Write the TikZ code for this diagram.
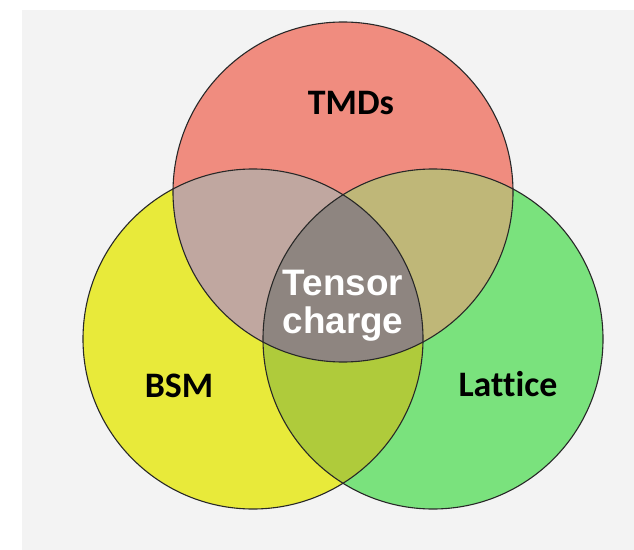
\documentclass[tikz,border=0pt]{standalone}
\usepackage{fontspec}
\newfontfamily\carl[Ligatures=NoCommon]{Carlito}
\newfontfamily\arialf{Liberation Sans}
\definecolor{bgc}{RGB}{243,243,243}
\definecolor{redc}{RGB}{240,140,127}
\definecolor{yelc}{RGB}{232,234,58}
\definecolor{grnc}{RGB}{122,226,125}
\definecolor{rync}{RGB}{192,167,160}
\definecolor{rgnc}{RGB}{191,183,120}
\definecolor{ygnc}{RGB}{175,203,59}
\definecolor{allc}{RGB}{142,133,128}
\definecolor{edgec}{RGB}{40,40,40}
\begin{document}
\begin{tikzpicture}[x=1bp,y=-1bp,
  setlabel/.style={font=\carl\bfseries\fontsize{36}{42}\selectfont, text=black, inner sep=0pt, anchor=base},
  centerlabel/.style={font=\arialf\bfseries\fontsize{37}{38}\selectfont, text=white, inner sep=0pt, anchor=base},
  ring/.style={draw=edgec, line width=1.1bp}]
\useasboundingbox (0,0) rectangle (634,550);
\fill[bgc] (22,10) rectangle (634,550);
\def\rad{170}
\coordinate (R) at (343,192);
\coordinate (Y) at (253,339);
\coordinate (G) at (433,339);
% base fills
\fill[redc] (R) circle (\rad);
\fill[yelc] (Y) circle (\rad);
\fill[grnc] (G) circle (\rad);
% pairwise overlaps
\begin{scope}
  \clip (R) circle (\rad);
  \fill[rync] (Y) circle (\rad);
  \fill[rgnc] (G) circle (\rad);
\end{scope}
\begin{scope}
  \clip (Y) circle (\rad);
  \fill[ygnc] (G) circle (\rad);
\end{scope}
\begin{scope}
  \clip (R) circle (\rad);
  \clip (Y) circle (\rad);
  \fill[allc] (G) circle (\rad);
\end{scope}
% outlines
\draw[ring] (R) circle (\rad);
\draw[ring] (Y) circle (\rad);
\draw[ring] (G) circle (\rad);
% labels
\node[setlabel] (tmds) at (351,115) {TMDs};
\node[setlabel] (bsm) at (179,397) {BSM};
\node[setlabel] (lat) at (508,396) {Lattice};
\node[centerlabel] (tens) at (343,295) {Tensor};
\node[centerlabel] (chg) at (343,333) {charge};
\end{tikzpicture}
\end{document}
